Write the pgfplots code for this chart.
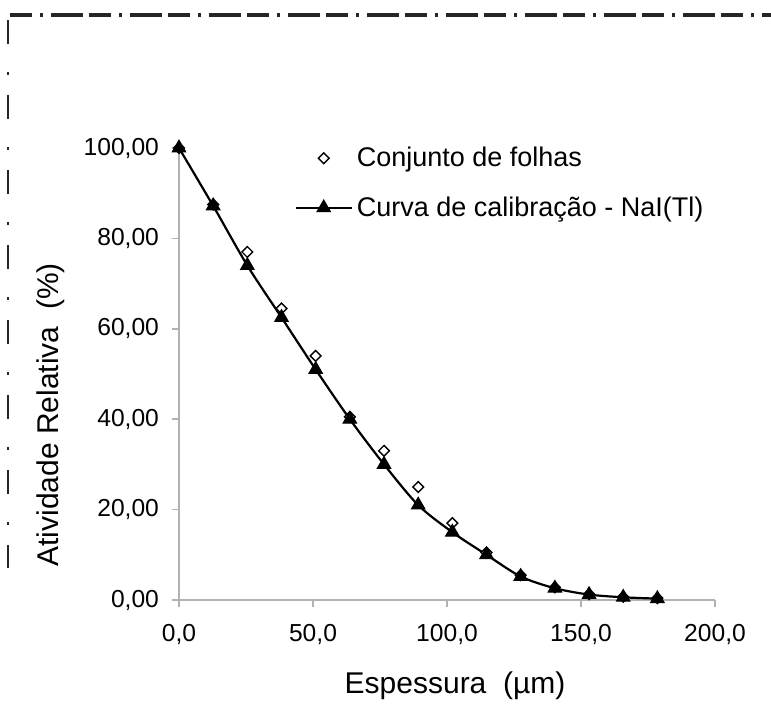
\documentclass[border=0pt]{standalone}
\usepackage{pgfplots}
\pgfplotsset{compat=1.18}
\usepackage{fontspec}
\setmainfont{Liberation Sans}
\begin{document}
\begin{tikzpicture}
\path[use as bounding box] (0,0) rectangle (385.5pt,362pt);
% scanned dash-dot frame
\draw[black!85, line width=1.6pt, dash pattern=on 11pt off 4pt on 1.5pt off 4pt on 16pt off 3pt] (5pt,354.5pt) -- (385.5pt,354.5pt);
\draw[black!85, line width=1.4pt, dash pattern=on 12pt off 14pt on 1.5pt off 10pt] (4pt,352pt) -- (4pt,78pt);
\begin{axis}[
  at={(89.5pt,62pt)}, anchor=south west,
  scale only axis, width=268pt, height=226pt,
  xmin=0, xmax=200, ymin=0, ymax=100,
  axis lines=left,
  axis line style={-, gray!60, line width=0.8pt},
  every tick/.style={gray!60, line width=0.8pt},
  tick align=outside, major tick length=3.5pt,
  xtick={0,50,100,150,200},
  ytick={0,20,40,60,80,100},
  /pgf/number format/assume math mode=true,
  /pgf/number format/use comma,
  /pgf/number format/1000 sep={},
  xticklabel style={/pgf/number format/fixed, /pgf/number format/fixed zerofill, /pgf/number format/precision=1, yshift=-5pt},
  yticklabel style={/pgf/number format/fixed, /pgf/number format/fixed zerofill, /pgf/number format/precision=2, xshift=-3pt},
  tick label style={font=\fontsize{12.3}{14}\selectfont, black},
  xlabel={Espessura\ \ (µm)},
  ylabel={Atividade Relativa\ \ (\%)},
  label style={font=\fontsize{15}{18}\selectfont},
  xlabel style={at={(axis description cs:0.515,-0.19)}, anchor=center},
  ylabel style={at={(axis description cs:-0.24,0.41)}, anchor=center},
  legend style={draw=none, fill=none, at={(axis description cs:0.215,1.012)}, anchor=north west,
    font=\fontsize{13.5}{16}\selectfont, row sep=9.5pt, inner sep=0pt},
  legend cell align=left,
  legend image code/.code={\draw[mark repeat=2,mark phase=2,#1] plot coordinates {(0pt,0pt) (14pt,0pt) (28pt,0pt)};},
  clip=false,
]
\addplot[only marks, mark=square*, mark size=1.9pt, mark options={fill=white, draw=black, line width=0.7pt, rotate=45}]
coordinates {
(0,100) (12.75,87.5) (25.5,77) (38.25,64.5) (51,54) (63.75,40.5) (76.5,33)
(89.25,25) (102,17) (114.75,10.5) (127.5,5.5) (140.25,2.8) (153,1.3) (165.75,0.7) (178.5,0.4)
};
\addlegendentry{Conjunto de folhas}
\addplot[black, line width=1.1pt, smooth, mark=triangle*, mark size=3.8pt, mark options={fill=black, solid, line width=0.6pt}]
coordinates {
(0,100) (12.75,87.2) (25.5,74) (38.25,62.5) (51,51) (63.75,40) (76.5,30)
(89.25,21) (102,15) (114.75,10) (127.5,5.2) (140.25,2.6) (153,1.2) (165.75,0.6) (178.5,0.3)
};
\addlegendentry{Curva de calibração - NaI(Tl)}
\end{axis}
\end{tikzpicture}
\end{document}
